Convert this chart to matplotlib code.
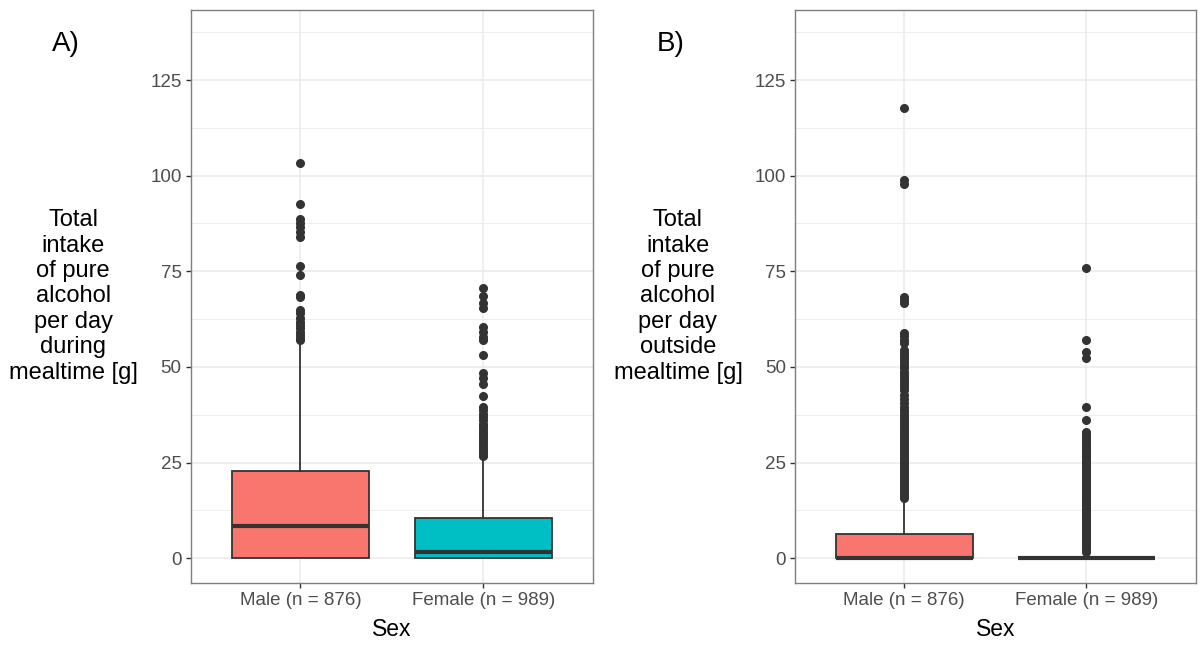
import matplotlib.pyplot as plt
from matplotlib.ticker import MultipleLocator

plt.rcParams["font.family"] = ["Liberation Sans", "DejaVu Sans"]

groups = ["Male (n = 876)", "Female (n = 989)"]
fills = ["#F8766D", "#00BFC4"]

# panel A: during mealtime  (q1, median, q3, whisker low, whisker high)
a_male_stats = [0.0, 8.3, 22.9, 0.0, 56.8]
a_female_stats = [0.0, 1.6, 10.5, 0.0, 26.2]
a_male_out = [103.4, 92.5, 88.8, 87.7, 86.5, 85.3, 84.0, 76.4, 74.1, 68.7,
              68.3, 65.0, 64.0, 62.7, 61.8, 61.0, 60.1, 59.2, 58.3, 57.5, 57.0]
a_female_out = [70.7, 68.6, 66.6, 65.3, 60.5, 59.2, 57.9, 57.0, 53.1, 48.3,
                47.0, 45.6, 42.3, 39.5, 38.7, 37.8, 36.9, 36.0, 35.2, 34.5,
                33.8, 33.0, 32.3, 31.5, 30.8, 30.0, 29.3, 28.5, 27.8, 27.0, 26.6]

# panel B: outside mealtime
b_male_stats = [0.0, 0.0, 6.4, 0.0, 15.2]
b_female_stats = [0.0, 0.0, 0.0, 0.0, 0.0]
b_male_out = [117.8, 98.9, 97.9, 68.4, 67.6, 66.8, 59.0, 58.0, 57.0, 56.3,
              54.4, 53.6, 52.8, 52.0, 51.2, 50.4, 49.6, 48.8, 48.0, 47.2,
              46.4, 45.6, 44.8, 44.0, 42.7, 41.5, 40.5, 39.6, 38.8, 38.0,
              37.2, 36.4, 35.6, 34.8, 34.0, 33.3, 32.6, 31.9, 31.2, 30.5,
              29.8, 29.1, 28.4, 27.7, 27.0, 26.3, 25.6, 24.9, 24.2, 23.5,
              22.8, 22.1, 21.4, 20.7, 20.0, 19.3, 18.6, 17.9, 17.2, 16.5, 15.8]
b_female_out = [75.8, 57.0, 54.0, 52.3, 39.6, 36.1, 33.1, 32.5, 31.8, 31.0,
                30.3, 29.6, 28.9, 28.3, 27.6, 27.0, 26.4, 25.8, 25.2, 24.6,
                24.0, 23.4, 22.8, 22.2, 21.6, 21.0, 20.4, 19.8, 19.2, 18.6,
                18.0, 17.4, 16.8, 16.2, 15.6, 15.0, 14.4, 13.8, 13.2, 12.6,
                12.0, 11.4, 10.8, 10.2, 9.6, 9.0, 8.4, 7.8, 7.2, 6.6, 6.0,
                5.4, 4.8, 4.2, 3.6, 3.0, 2.4, 1.7]

ylabel_a = "Total\nintake\nof pure\nalcohol\nper day\nduring\nmealtime [g]"
ylabel_b = "Total\nintake\nof pure\nalcohol\nper day\noutside\nmealtime [g]"

DARK = "#333333"


def make_stats(s, out):
    return {"q1": s[0], "med": s[1], "q3": s[2], "whislo": s[3], "whishi": s[4],
            "fliers": out}


def panel(ax, stats, outs, ylabel, tag):
    bstats = [make_stats(s, o) for s, o in zip(stats, outs)]
    bp = ax.bxp(bstats, positions=[1, 2], widths=0.75, patch_artist=True,
                showcaps=False,
                boxprops=dict(edgecolor=DARK, linewidth=1.3),
                whiskerprops=dict(color=DARK, linewidth=1.3),
                medianprops=dict(color=DARK, linewidth=3.0, solid_capstyle="butt"),
                flierprops=dict(marker="o", markersize=5.5, markerfacecolor=DARK,
                                markeredgecolor=DARK, linestyle="none"))
    for patch, c in zip(bp["boxes"], fills):
        patch.set_facecolor(c)

    ax.set_xlim(0.4, 2.6)
    ax.set_ylim(-6.4, 143.3)
    ax.yaxis.set_minor_locator(MultipleLocator(12.5))
    ax.set_yticks([0, 25, 50, 75, 100, 125])
    ax.set_xticks([1, 2])
    ax.set_xticklabels(groups)
    ax.grid(which="major", color="#EBEBEB", linewidth=1.1)
    ax.grid(which="minor", axis="y", color="#EBEBEB", linewidth=0.6)
    ax.set_axisbelow(True)
    ax.tick_params(which="major", length=3.5, width=1.0, color=DARK,
                   labelsize=13.5, labelcolor="#4D4D4D", pad=3)
    ax.tick_params(which="minor", length=0)
    for sp in ax.spines.values():
        sp.set_color("#7F7F7F")
        sp.set_linewidth(1.0)
    ax.set_xlabel("Sex", fontsize=16.5, va="center")
    ax.xaxis.set_label_coords(0.5, -0.082)
    ax.set_ylabel(ylabel, fontsize=17, rotation=0, ha="center", va="center",
                  linespacing=1.2)
    ax.yaxis.set_label_coords(-0.292, 0.5)
    ax.text(-0.31, 0.94, tag, transform=ax.transAxes, fontsize=20,
            ha="center", va="center")


fig = plt.figure(figsize=(12, 6.46), dpi=100)
ax1 = fig.add_axes([0.1589, 0.098, 0.3355, 0.8865])
ax2 = fig.add_axes([0.6625, 0.098, 0.334, 0.8865])

panel(ax1, [a_male_stats, a_female_stats], [a_male_out, a_female_out], ylabel_a, "A)")
panel(ax2, [b_male_stats, b_female_stats], [b_male_out, b_female_out], ylabel_b, "B)")

fig.savefig("out.png", dpi=100)
